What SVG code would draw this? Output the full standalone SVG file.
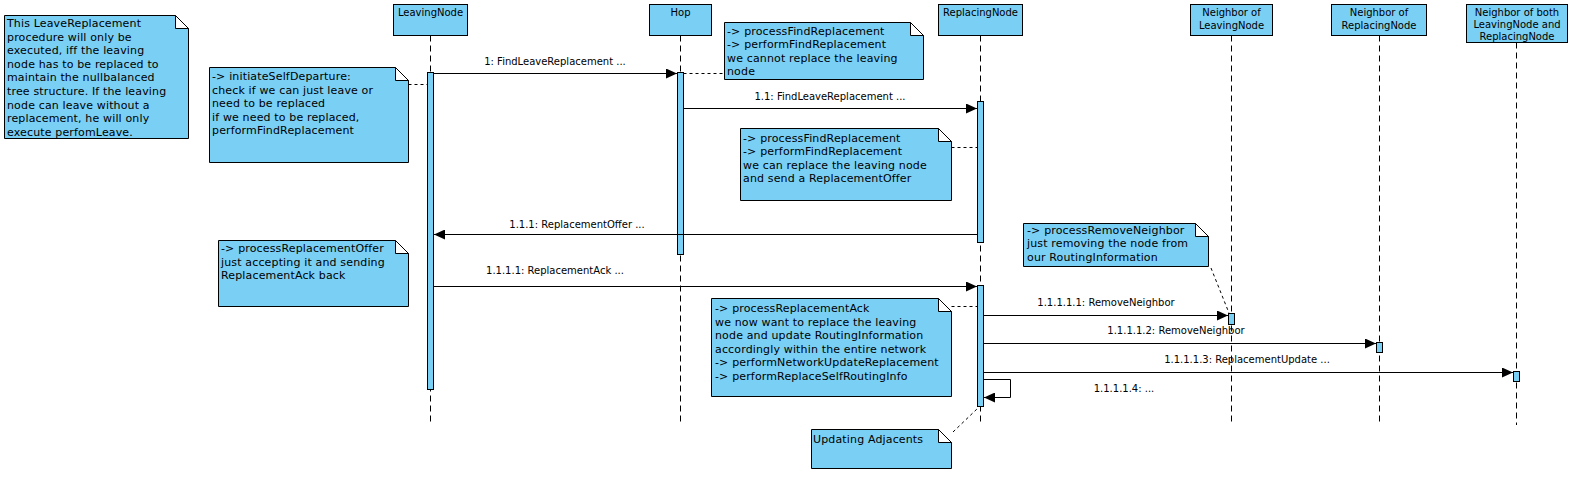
<svg xmlns="http://www.w3.org/2000/svg" width="1571" height="481" viewBox="0 0 1571 481">
<style>
.box{fill:#7acff5;stroke:#000;stroke-width:1}
.fold{fill:#fff;stroke:#000;stroke-width:1}
.life{stroke:#000;stroke-width:1;stroke-dasharray:6,4;fill:none}
.act{fill:#7acff5;stroke:#000;stroke-width:1}
.msg{stroke:#000;stroke-width:1;fill:none}
.conn{stroke:#000;stroke-width:1;stroke-dasharray:3,3;fill:none}
.ht{font-family:"DejaVu Sans",sans-serif;font-size:10px;fill:#000;text-anchor:middle}
.ml{font-family:"DejaVu Sans",sans-serif;font-size:10px;fill:#000;text-anchor:middle}
.nt{font-family:"DejaVu Sans",sans-serif;font-size:11px;fill:#000;letter-spacing:0.15px}
</style>
<defs>
<marker id="arr" markerUnits="userSpaceOnUse" markerWidth="11" markerHeight="10" refX="11" refY="5" orient="auto">
<path d="M0,0 L11,5 L0,10 Z" fill="#000"/>
</marker>
</defs>
<rect width="1571" height="481" fill="#fff"/>

<g id="LeavingNode">
<rect class="box" x="393.5" y="4.5" width="74" height="31"/>
<text class="ht" x="430.5" y="16">LeavingNode</text>
<line class="life" x1="430.5" y1="35.5" x2="430.5" y2="425"/>
<rect class="act" x="427.5" y="72.5" width="6" height="317"/>
</g>
<g id="Hop">
<rect class="box" x="649.5" y="4.5" width="62" height="31"/>
<text class="ht" x="680.5" y="16">Hop</text>
<line class="life" x1="680.5" y1="35.5" x2="680.5" y2="425"/>
<rect class="act" x="677.5" y="72.5" width="6" height="182"/>
</g>
<g id="ReplacingNode">
<rect class="box" x="938.5" y="4.5" width="84" height="31"/>
<text class="ht" x="980.5" y="16">ReplacingNode</text>
<line class="life" x1="980.5" y1="35.5" x2="980.5" y2="425"/>
<rect class="act" x="977.5" y="101.5" width="6" height="141"/>
<rect class="act" x="977.5" y="285.5" width="6" height="121"/>
</g>
<g id="NeighborLeaving">
<rect class="box" x="1190.5" y="4.5" width="82" height="31"/>
<text class="ht" x="1231.5" y="15.5">Neighbor of</text>
<text class="ht" x="1231.5" y="28.5">LeavingNode</text>
<line class="life" x1="1231.5" y1="35.5" x2="1231.5" y2="425"/>
<rect class="act" x="1228.5" y="313.5" width="6" height="11"/>
</g>
<g id="NeighborReplacing">
<rect class="box" x="1331.5" y="4.5" width="95" height="31"/>
<text class="ht" x="1379" y="15.5">Neighbor of</text>
<text class="ht" x="1379" y="28.5">ReplacingNode</text>
<line class="life" x1="1379.5" y1="35.5" x2="1379.5" y2="425"/>
<rect class="act" x="1376.5" y="342.5" width="6" height="10"/>
</g>
<g id="NeighborBoth">
<rect class="box" x="1466.5" y="4.5" width="101" height="38"/>
<text class="ht" x="1517" y="15.5">Neighbor of both</text>
<text class="ht" x="1517" y="28">LeavingNode and</text>
<text class="ht" x="1517" y="40">ReplacingNode</text>
<line class="life" x1="1516.5" y1="42.5" x2="1516.5" y2="425"/>
<rect class="act" x="1513.5" y="371.5" width="6" height="10"/>
</g>

<g id="note1">
<path class="box" d="M4.5,15.5 H175.5 L188.5,28.5 V138.5 H4.5 Z"/>
<path class="fold" d="M175.5,15.5 V28.5 H188.5 Z"/>
<text class="nt" x="7" y="27">This LeaveReplacement</text>
<text class="nt" x="7" y="40.6">procedure will only be</text>
<text class="nt" x="7" y="54.2">executed, iff the leaving</text>
<text class="nt" x="7" y="67.8">node has to be replaced to</text>
<text class="nt" x="7" y="81.4">maintain the nullbalanced</text>
<text class="nt" x="7" y="95">tree structure. If the leaving</text>
<text class="nt" x="7" y="108.6">node can leave without a</text>
<text class="nt" x="7" y="122.2">replacement, he will only</text>
<text class="nt" x="7" y="135.8">execute perfomLeave.</text>
</g>
<g id="note2">
<path class="box" d="M209.5,67.5 H395.5 L408.5,80.5 V162.5 H209.5 Z"/>
<path class="fold" d="M395.5,67.5 V80.5 H408.5 Z"/>
<text class="nt" x="212" y="80">-&gt; initiateSelfDeparture:</text>
<text class="nt" x="212" y="93.5">check if we can just leave or</text>
<text class="nt" x="212" y="107">need to be replaced</text>
<text class="nt" x="212" y="120.5">if we need to be replaced,</text>
<text class="nt" x="212" y="134">performFindReplacement</text>
</g>
<g id="note3">
<path class="box" d="M724.5,22.5 H910.5 L923.5,35.5 V79.5 H724.5 Z"/>
<path class="fold" d="M910.5,22.5 V35.5 H923.5 Z"/>
<text class="nt" x="727" y="34.5">-&gt; processFindReplacement</text>
<text class="nt" x="727" y="48">-&gt; performFindReplacement</text>
<text class="nt" x="727" y="61.5">we cannot replace the leaving</text>
<text class="nt" x="727" y="75">node</text>
</g>
<g id="note4">
<path class="box" d="M740.5,128.5 H938.5 L951.5,141.5 V200.5 H740.5 Z"/>
<path class="fold" d="M938.5,128.5 V141.5 H951.5 Z"/>
<text class="nt" x="743" y="141.5">-&gt; processFindReplacement</text>
<text class="nt" x="743" y="155">-&gt; performFindReplacement</text>
<text class="nt" x="743" y="168.5">we can replace the leaving node</text>
<text class="nt" x="743" y="182">and send a ReplacementOffer</text>
</g>
<g id="note5">
<path class="box" d="M218.5,240.5 H395.5 L408.5,253.5 V306.5 H218.5 Z"/>
<path class="fold" d="M395.5,240.5 V253.5 H408.5 Z"/>
<text class="nt" x="221" y="252">-&gt; processReplacementOffer</text>
<text class="nt" x="221" y="265.5">just accepting it and sending</text>
<text class="nt" x="221" y="279">ReplacementAck back</text>
</g>
<g id="note6">
<path class="box" d="M1023.5,223.5 H1195.5 L1208.5,236.5 V266.5 H1023.5 Z"/>
<path class="fold" d="M1195.5,223.5 V236.5 H1208.5 Z"/>
<text class="nt" x="1027" y="233.5">-&gt; processRemoveNeighbor</text>
<text class="nt" x="1027" y="247">just removing the node from</text>
<text class="nt" x="1027" y="260.5">our RoutingInformation</text>
</g>
<g id="note7">
<path class="box" d="M711.5,298.5 H938.5 L951.5,311.5 V396.5 H711.5 Z"/>
<path class="fold" d="M938.5,298.5 V311.5 H951.5 Z"/>
<text class="nt" x="715" y="312">-&gt; processReplacementAck</text>
<text class="nt" x="715" y="325.5">we now want to replace the leaving</text>
<text class="nt" x="715" y="339">node and update RoutingInformation</text>
<text class="nt" x="715" y="352.5">accordingly within the entire network</text>
<text class="nt" x="715" y="366">-&gt; performNetworkUpdateReplacement</text>
<text class="nt" x="715" y="379.5">-&gt; performReplaceSelfRoutingInfo</text>
</g>
<g id="note8">
<path class="box" d="M811.5,429.5 H938.5 L951.5,442.5 V468.5 H811.5 Z"/>
<path class="fold" d="M938.5,429.5 V442.5 H951.5 Z"/>
<text class="nt" x="813" y="443">Updating Adjacents</text>
</g>

<g id="connectors">
<line class="conn" x1="408.5" y1="84.5" x2="427.5" y2="84.5"/>
<line class="conn" x1="683.5" y1="73.5" x2="724.5" y2="73.5"/>
<line class="conn" x1="951.5" y1="147.5" x2="977.5" y2="147.5"/>
<line class="conn" x1="951.5" y1="306.5" x2="977.5" y2="306.5"/>
<line class="conn" x1="1211" y1="268" x2="1229" y2="313"/>
<line class="conn" x1="953" y1="432" x2="978" y2="408"/>

<line class="msg" x1="434" y1="73.5" x2="677" y2="73.5" marker-end="url(#arr)"/>
<text class="ml" x="555" y="65">1: FindLeaveReplacement ...</text>
<line class="msg" x1="684" y1="108.5" x2="977" y2="108.5" marker-end="url(#arr)"/>
<text class="ml" x="830" y="100">1.1: FindLeaveReplacement ...</text>
<line class="msg" x1="977" y1="234.5" x2="434" y2="234.5" marker-end="url(#arr)"/>
<text class="ml" x="577" y="228">1.1.1: ReplacementOffer ...</text>
<line class="msg" x1="434" y1="286.5" x2="977" y2="286.5" marker-end="url(#arr)"/>
<text class="ml" x="555" y="274">1.1.1.1: ReplacementAck ...</text>
<line class="msg" x1="984" y1="315.5" x2="1228" y2="315.5" marker-end="url(#arr)"/>
<text class="ml" x="1106" y="306">1.1.1.1.1: RemoveNeighbor</text>
<line class="msg" x1="984" y1="343.5" x2="1376" y2="343.5" marker-end="url(#arr)"/>
<text class="ml" x="1176" y="334">1.1.1.1.2: RemoveNeighbor</text>
<line class="msg" x1="984" y1="372.5" x2="1513" y2="372.5" marker-end="url(#arr)"/>
<text class="ml" x="1247" y="363">1.1.1.1.3: ReplacementUpdate ...</text>
<path class="msg" d="M984,379.5 H1010.5 V397.5 H984" marker-end="url(#arr)"/>
<text class="ml" x="1124" y="392">1.1.1.1.4: ...</text>
</g>
</svg>
